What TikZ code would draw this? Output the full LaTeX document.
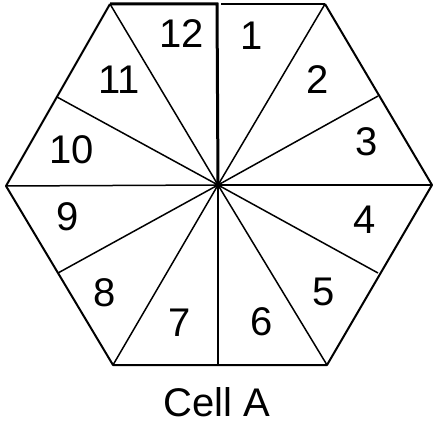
\documentclass[tikz,border=0pt]{standalone}
\usepackage{fontspec}
\setmainfont{Liberation Sans}
\begin{document}
\begin{tikzpicture}[x=1pt,y=-1pt,
  edge/.style={line width=2pt,line join=round},
  spoke/.style={line width=1.5pt},
  heavy/.style={line width=3pt},
  num/.style={font=\fontsize{40}{40}\selectfont,inner sep=0pt}]
\useasboundingbox (0,0) rectangle (435,425);
% centre and vertices
\coordinate (O) at (218,185);
\coordinate (L) at (6,186);
\coordinate (R) at (432,185);
\coordinate (TL) at (110,4);
\coordinate (TR) at (325,4);
\coordinate (BL) at (113,365);
\coordinate (BR) at (327,365);
% edge midpoints
\coordinate (MT) at (217,4);
\coordinate (MTr) at (221,4);
\coordinate (MB) at (218,365);
\coordinate (MUL) at (57,97);
\coordinate (MLL) at (58,273);
\coordinate (MUR) at (378,96);
\coordinate (MLR) at (378,273);
% hexagon outline
\draw[edge] (TR) -- (R) -- (BR) -- (BL) -- (L) -- (TL);
\draw[edge] (MTr) -- (TR);
\draw[heavy] (TL) -- (MT) -- (O);
% spokes
\foreach \p in {L,R,TL,TR,BL,BR,MB,MUL,MLL,MUR,MLR}
  \draw[spoke] (O) -- (\p);
\fill (O) circle (3.5pt);
% labels
\node[num] (n1) at (252,36) {1};
\node[num] (n2) at (318,80) {2};
\node[num] (n3) at (367,142) {3};
\node[num] (n4) at (365,220) {4};
\node[num] (n5) at (324,292) {5};
\node[num] (n6) at (262,322) {6};
\node[num] (n7) at (180,323) {7};
\node[num] (n8) at (105,293) {8};
\node[num] (n9) at (68,217) {9};
\node[num] (n10) at (72,150) {10};
\node[num] (n11) at (119,80) {11};
\node[num] (n12) at (182,34) {12};
\node[num] (cap) at (217,402) {Cell A};
\end{tikzpicture}
\end{document}
